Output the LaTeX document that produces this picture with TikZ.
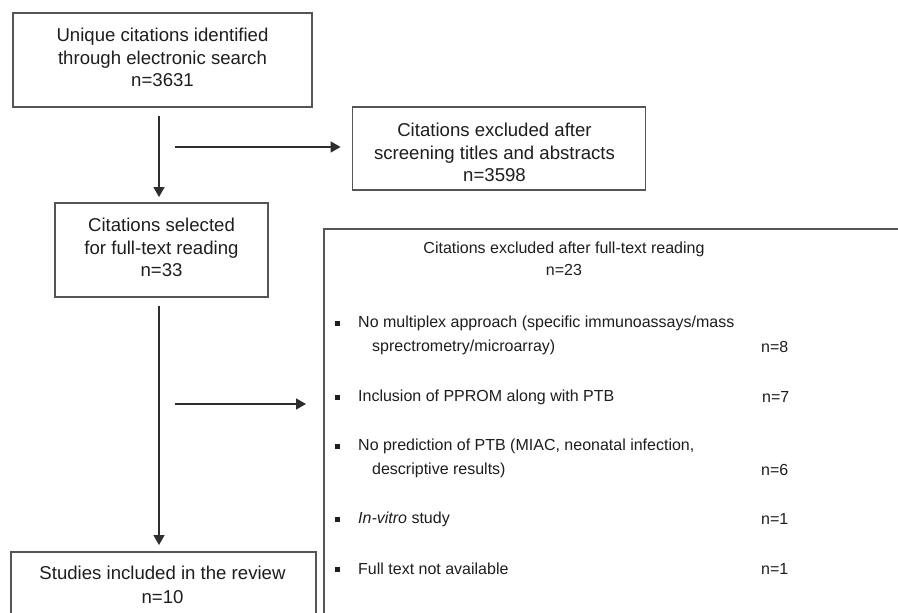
\documentclass[tikz,border=0pt]{standalone}
\usepackage{fontspec}
\setmainfont{Liberation Sans}
\usetikzlibrary{arrows.meta}
\definecolor{boxc}{HTML}{555555}
\definecolor{arrc}{HTML}{2E2E2E}
\definecolor{txtc}{HTML}{1E1E1E}
\begin{document}
\begin{tikzpicture}[x=1pt,y=-1pt,
  every node/.style={text=txtc,font=\fontsize{16}{22.5}\selectfont},
  flowbox/.style={draw=boxc,line width=1.8pt,align=center,inner sep=0pt,font=\fontsize{18.6}{22.7}\selectfont},
  boxtext/.style={align=center,inner sep=0pt,font=\fontsize{18.6}{22.7}\selectfont},
  arr/.style={draw=arrc,line width=1.4pt,-{Triangle[length=10pt,width=11pt]}},
  item/.style={anchor=west,inner sep=0pt},
  bulletsq/.style={fill=txtc,minimum size=5pt,inner sep=0pt}
]
\useasboundingbox (0,0) rectangle (898,613);
\clip (0,0) rectangle (898,613);
\fill[white] (0,0) rectangle (898,613);

% main boxes
\node[flowbox,minimum width=299pt,minimum height=94pt] (box1) at (162.5,60)
  {Unique citations identified\\through electronic search\\n=3631\rule[-5pt]{0pt}{5pt}};
\node[flowbox,minimum width=293pt,minimum height=83pt] (ex1) at (499,148.5) {};
\node[boxtext] (ex1t) at (494.5,152.5)
  {Citations excluded after\\screening titles and abstracts\\n=3598};
\node[flowbox,minimum width=213pt,minimum height=94pt] (box2) at (161.5,250)
  {Citations selected\\for full-text reading\\n=33\rule[-5pt]{0pt}{5pt}};
\node[flowbox,minimum width=305pt,minimum height=120pt,anchor=north west] (box3) at (10,551) {};
\node[boxtext,font=\fontsize{18.6}{23.5}\selectfont] (box3t) at (162.5,585) {Studies included in the review\\n=10};

% big exclusion box
\node[flowbox,minimum width=700pt,minimum height=500pt,anchor=north west] (ex2) at (323,228) {};
\node[align=center] (ex2t) at (564,259) {Citations excluded after full-text reading\\n=23};

% items
\node[bulletsq] (b1) at (337,323) {};
\node[item] (i1a) at (358,323) {No multiplex approach (specific immunoassays/mass};
\node[item] (i1b) at (372,347) {sprectrometry/microarray)};
\node[item] (n1) at (761,347) {n=8};

\node[bulletsq] (b2) at (337,397) {};
\node[item] (i2) at (358,397) {Inclusion of PPROM along with PTB};
\node[item] (n2) at (762,397) {n=7};

\node[bulletsq] (b3) at (337,446) {};
\node[item] (i3a) at (358,446) {No prediction of PTB (MIAC, neonatal infection,};
\node[item] (i3b) at (372,470) {descriptive results)};
\node[item] (n3) at (761,470) {n=6};

\node[bulletsq] (b4) at (337,519) {};
\node[item] (i4) at (358,519) {\textit{In-vitro} study};
\node[item] (n4) at (761,519) {n=1};

\node[bulletsq] (b5) at (337,569) {};
\node[item] (i5) at (358,569) {Full text not available};
\node[item] (n5) at (761,569) {n=1};

% connectors
\coordinate (vx) at (159,0);
\coordinate (h1) at (175,147);
\coordinate (h2) at (175,404);
\draw[arr,shorten <=8pt,shorten >=5pt] (box1.south -| vx) -- (box2.north -| vx);
\draw[arr,shorten <=8pt,shorten >=6pt] (box2.south -| vx) -- (box3.north -| vx);
\draw[arr,shorten >=11pt] (h1) -- (h1 -| ex1.west);
\draw[arr,shorten >=17pt] (h2) -- (h2 -| ex2.west);
\end{tikzpicture}
\end{document}
